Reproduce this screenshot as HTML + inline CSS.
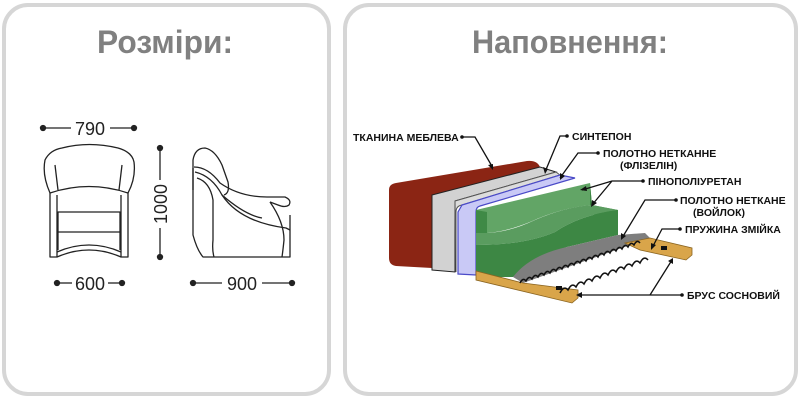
<!DOCTYPE html>
<html><head><meta charset="utf-8"><style>
html,body{margin:0;padding:0;background:#fff;}
svg{display:block;}
text{font-family:"Liberation Sans",Arial,sans-serif;}
</style></head><body>
<svg width="800" height="400" viewBox="0 0 800 400" xmlns="http://www.w3.org/2000/svg">
<rect x="4" y="5" width="325" height="389" rx="24" fill="#fff" stroke="#d6d6d6" stroke-width="4"/>
<rect x="345" y="5" width="451" height="389" rx="24" fill="#fff" stroke="#d6d6d6" stroke-width="4"/>
<text x="97" y="53" font-size="32" font-weight="bold" fill="#808080" textLength="136" lengthAdjust="spacingAndGlyphs" style="font-family:'Liberation Sans Narrow','Liberation Sans',sans-serif">Розміри:</text>
<text x="472" y="53" font-size="32" font-weight="bold" fill="#808080" textLength="196" lengthAdjust="spacingAndGlyphs" style="font-family:'Liberation Sans Narrow','Liberation Sans',sans-serif">Наповнення:</text>

<g fill="none" stroke="#222" stroke-width="1.3" stroke-linejoin="round">
<!-- front chair -->
<path d="M50,193 Q42,175 45,160 Q50,150 62,148 Q89,141 118,148 Q132,152 134,162 Q136,178 128,193 Q89,180 50,193Z"/>
<path d="M55,165 L58,190 M122,165 L119,190"/>
<path d="M50,193 L50,257 L57,257 L57,195 M128,193 L128,257 L121,257 L121,195"/>
<path d="M58,212 L120,212 L120,232 L58,232 Z"/>
<path d="M58,232 L58,250 M120,232 L120,250"/>
<path d="M57,257 Q89,243 121,257"/>
<path d="M57,252 Q89,238 121,252"/>
<!-- side chair -->
<path d="M193,190 L193,160 Q195,148 205,148 Q215,150 222,165 L228,182 Q230,193 224,195"/>
<path d="M193,168 L193,235 Q197,250 203,257 L290,257 L290,215"/>
<path d="M194,167 Q208,167 220,183 Q240,197 267,197 L285,197 Q292,200 289,205 Q285,208 278,205 L270,202"/>
<path d="M195,172 Q212,176 222,195 Q240,222 286,228 L290,230"/>
<path d="M270,202 Q284,222 284,240 Q283,250 282,257"/>
<path d="M197,178 Q210,182 213,200 L213,240 Q212,250 214,257"/>
<path d="M222,195 Q245,215 262,218"/>
</g>
<!-- dimension lines -->
<g stroke="#222" stroke-width="1.3" fill="#222">
<line x1="43" y1="128" x2="71" y2="128"/><line x1="110" y1="128" x2="134" y2="128"/>
<circle cx="43" cy="128" r="2.5"/><circle cx="134" cy="128" r="2.5"/>
<line x1="160" y1="148" x2="160" y2="180"/><line x1="160" y1="228" x2="160" y2="257"/>
<circle cx="160" cy="148" r="2.5"/><circle cx="160" cy="257" r="2.5"/>
<line x1="57" y1="283" x2="72" y2="283"/><line x1="108" y1="283" x2="122" y2="283"/>
<circle cx="57" cy="283" r="2.5"/><circle cx="122" cy="283" r="2.5"/>
<line x1="193" y1="283" x2="222" y2="283"/><line x1="262" y1="283" x2="292" y2="283"/>
<circle cx="193" cy="283" r="2.5"/><circle cx="292" cy="283" r="2.5"/>
</g>
<g font-size="18" fill="#222">
<text x="90" y="135" text-anchor="middle">790</text>
<text x="90" y="290" text-anchor="middle">600</text>
<text x="242" y="290" text-anchor="middle">900</text>
<text transform="translate(167,204) rotate(-90)" text-anchor="middle">1000</text>
</g>

<!-- mattress -->
<path d="M396,183 L527,161 Q537,160 540,167 L432,195 L432,268 L396,266 Q389,265 389,258 L389,190 Q389,184 396,183Z" fill="#8b2514"/>
<path d="M432,195 L540,167 L556,172 L455,201 L455,272 L432,270Z" fill="#d2d2d2" stroke="#222" stroke-width="1"/>
<path d="M455,201 L556,172 L560,175 L462,205 Q456,206 456,212 L456,272Z" fill="#dcdcdc" stroke="#555" stroke-width="1"/>
<path d="M462,205 L560,175 L575,178 L480,206 Q476,207 476,212 L476,275 L458,274 L458,212Z" fill="#c9c9f6" stroke="#4a4ac8" stroke-width="1.2"/>
<!-- green -->
<path d="M476,210 L590,183 L592,205 Q560,208 530,222 Q505,232 487,233 L476,233Z" fill="#62a566"/>
<path d="M476,210 L487,212 L487,233 L476,233Z" fill="#3f8a46"/>
<path d="M590,183 L592,205 L618,210 L618,235 Q600,236 590,205Z" fill="#3d8744"/>
<path d="M476,233 L487,233 Q510,232 535,220 Q565,207 592,205 L618,210 Q580,215 555,232 Q525,245 476,245Z" fill="#5a9c5f"/>
<path d="M476,245 Q525,245 555,232 Q580,215 618,210 L618,235 L567,247 Q535,257 513,277 L476,277Z" fill="#3d8744"/>
<!-- felt -->
<path d="M513,277 Q530,255 567,247 L618,235 L645,233 L650,238 L523,283Z" fill="#7e7e7e"/>
<!-- wood -->
<path d="M476,271 L523,283 L578,290 L578,298 L572,303 L476,280Z" fill="#d9a54a" stroke="#8a6420" stroke-width="0.8"/>
<path d="M625,243 L650,238 L692,248 L692,255 L686,260 L640,250Z" fill="#d9a54a" stroke="#8a6420" stroke-width="0.8"/>
<!-- springs -->
<path d="M520,283 q3,-6 6,-2 q3,-6 6,-2 q3,-6 6,-2 q3,-6 6,-2 q3,-6 6,-2 q3,-6 6,-2 q3,-6 6,-2 q3,-6 6,-2 q3,-6 6,-2 q3,-6 6,-2 q3,-6 6,-2 q3,-6 6,-2 q3,-6 6,-2 q3,-6 6,-2 q3,-6 6,-2 q3,-6 6,-2 q3,-6 6,-2 q3,-6 6,-2 q3,-6 6,-2 q3,-6 6,-2" fill="none" stroke="#111" stroke-width="1.5"/>
<path d="M560,293 q4,-8 8,-3 q4,-8 8,-3 q4,-8 8,-3 q4,-8 8,-3 q4,-8 8,-3 q4,-8 8,-3 q4,-8 8,-3 q4,-8 8,-3 q4,-8 8,-3 q4,-8 8,-3 q4,-8 8,-3" fill="none" stroke="#111" stroke-width="1.5"/>
<rect x="556" y="286" width="6" height="4" fill="#111"/><rect x="661" y="246" width="6" height="4" fill="#111"/>

<!-- leaders -->
<g stroke="#111" stroke-width="1.3" fill="none">
<path d="M462,137 L475,137 L493,168"/>
<path d="M567,136 L560,136 L545,172"/>
<path d="M598,153 L578,153 L560,178"/>
<path d="M643,181 L612,181 L582,190 M612,181 L592,205"/>
<path d="M676,200 L645,200 L622,238"/>
<path d="M680,229 L662,229 L652,248"/>
<path d="M682,295 L650,295 L578,295 M650,295 L672,260"/>
</g>
<g fill="#111">
<circle cx="462" cy="137" r="1.8"/><circle cx="567" cy="136" r="1.8"/><circle cx="598" cy="153" r="1.8"/>
<circle cx="643" cy="181" r="1.8"/><circle cx="676" cy="200" r="1.8"/><circle cx="680" cy="229" r="1.8"/><circle cx="682" cy="295" r="1.8"/>
<path d="M493,170 l-5,-5 l5,-1z"/><path d="M545,174 l-2,-7 l5,2z"/><path d="M560,180 l0,-7 l5,3z"/>
<path d="M580,190 l6,-4 l1,5z"/><path d="M591,207 l1,-7 l5,3z"/><path d="M621,240 l0,-7 l5,3z"/>
<path d="M651,250 l0,-7 l5,2z"/><path d="M576,295 l6,-3 l0,6z"/><path d="M673,258 l-5,3 l5,3z"/>
</g>
<g font-size="10.5" font-weight="bold" fill="#111">
<text x="353" y="141">ТКАНИНА МЕБЛЕВА</text>
<text x="572" y="140">СИНТЕПОН</text>
<text x="603" y="157">ПОЛОТНО НЕТКАННЕ</text>
<text x="620" y="169">(ФЛІЗЕЛІН)</text>
<text x="648" y="185">ПІНОПОЛІУРЕТАН</text>
<text x="680" y="204">ПОЛОТНО НЕТКАНЕ</text>
<text x="693" y="216">(ВОЙЛОК)</text>
<text x="685" y="233">ПРУЖИНА ЗМІЙКА</text>
<text x="687" y="299">БРУС СОСНОВИЙ</text>
</g>
</svg>
</body></html>
